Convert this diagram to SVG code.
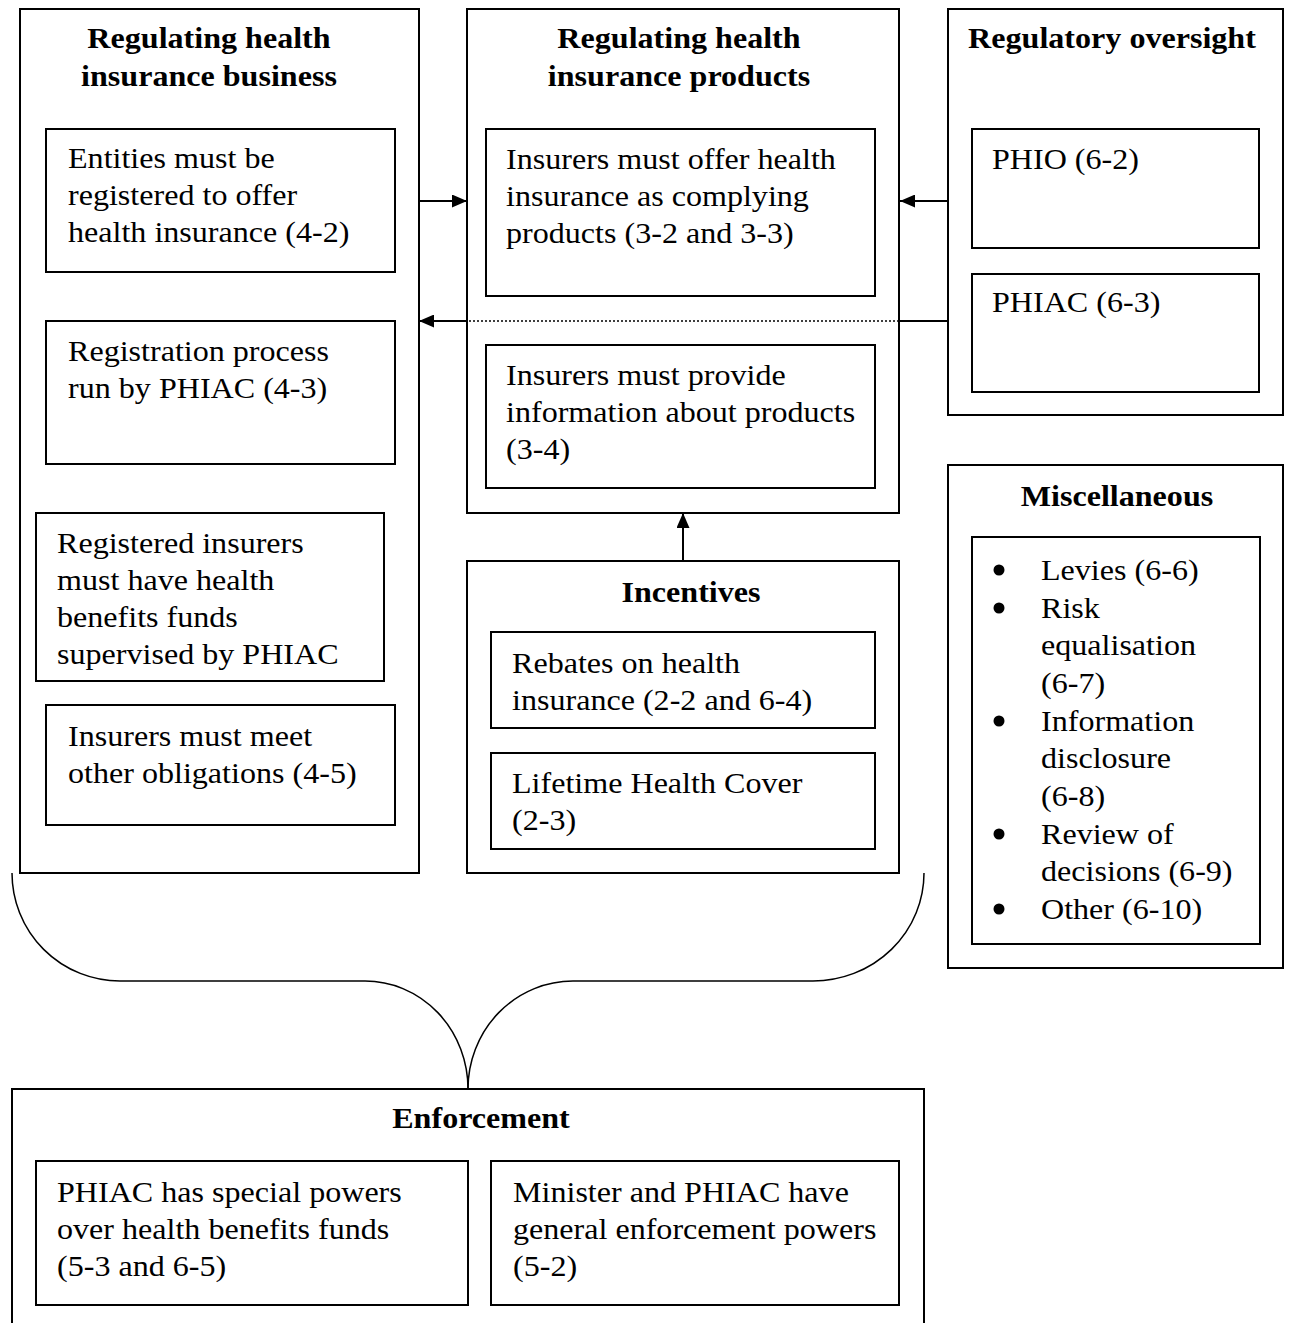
<svg xmlns="http://www.w3.org/2000/svg" width="1290" height="1323" viewBox="0 0 1290 1323">
<defs>
<style>
.box{fill:none;stroke:#000;stroke-width:2}
.t{font-family:"Liberation Serif","Times New Roman",serif;font-size:30px;fill:#000}
.h{font-family:"Liberation Serif","Times New Roman",serif;font-size:30px;font-weight:bold;fill:#000;text-anchor:middle}
.ln{stroke:#000;stroke-width:2;fill:none}
</style>
<marker id="ah" viewBox="0 0 15 13" refX="15" refY="6.5" markerWidth="15" markerHeight="13" orient="auto" markerUnits="userSpaceOnUse"><path d="M0,0 L15,6.5 L0,13 z" fill="#000"/></marker>
</defs>
<rect width="1290" height="1323" fill="#fff"/>

<g id="business">
<rect class="box" x="20" y="9" width="399" height="864"/>
<g transform="translate(209 1.5) scale(1.07 1)">
<text class="h" x="0" y="47">Regulating health</text>
<text class="h" x="0" y="85">insurance business</text>
</g>
</g>
<g id="entities">
<rect class="box" x="46" y="129" width="349" height="143"/>
<g transform="translate(68 1.5) scale(1.07 1)">
<text class="t" x="0" y="167">Entities must be</text>
<text class="t" x="0" y="204">registered to offer</text>
<text class="t" x="0" y="241">health insurance (4-2)</text>
</g>
</g>
<g id="registration">
<rect class="box" x="46" y="321" width="349" height="143"/>
<g transform="translate(68 1.5) scale(1.07 1)">
<text class="t" x="0" y="360">Registration process</text>
<text class="t" x="0" y="397">run by PHIAC (4-3)</text>
</g>
</g>
<g id="registered">
<rect class="box" x="36" y="513" width="348" height="168"/>
<g transform="translate(57 1.5) scale(1.07 1)">
<text class="t" x="0" y="552">Registered insurers</text>
<text class="t" x="0" y="589">must have health</text>
<text class="t" x="0" y="626">benefits funds</text>
<text class="t" x="0" y="663">supervised by PHIAC</text>
</g>
</g>
<g id="obligations">
<rect class="box" x="46" y="705" width="349" height="120"/>
<g transform="translate(68 1.5) scale(1.07 1)">
<text class="t" x="0" y="745">Insurers must meet</text>
<text class="t" x="0" y="782">other obligations (4-5)</text>
</g>
</g>

<g id="products">
<rect class="box" x="467" y="9" width="432" height="504"/>
<g transform="translate(679 1.5) scale(1.07 1)">
<text class="h" x="0" y="47">Regulating health</text>
<text class="h" x="0" y="85">insurance products</text>
</g>
</g>
<g id="complying">
<rect class="box" x="486" y="129" width="389" height="167"/>
<g transform="translate(506 1.5) scale(1.07 1)">
<text class="t" x="0" y="168">Insurers must offer health</text>
<text class="t" x="0" y="205">insurance as complying</text>
<text class="t" x="0" y="242">products (3-2 and 3-3)</text>
</g>
</g>
<g id="information">
<rect class="box" x="486" y="345" width="389" height="143"/>
<g transform="translate(506 1.5) scale(1.07 1)">
<text class="t" x="0" y="384">Insurers must provide</text>
<text class="t" x="0" y="421">information about products</text>
<text class="t" x="0" y="458">(3-4)</text>
</g>
</g>

<g id="oversight">
<rect class="box" x="948" y="9" width="335" height="406"/>
<g transform="translate(1112 1.5) scale(1.07 1)">
<text class="h" x="0" y="47">Regulatory oversight</text>
</g>
</g>
<g id="phio">
<rect class="box" x="972" y="129" width="287" height="119"/>
<g transform="translate(992 1.5) scale(1.07 1)">
<text class="t" x="0" y="168">PHIO (6-2)</text>
</g>
</g>
<g id="phiac">
<rect class="box" x="972" y="274" width="287" height="118"/>
<g transform="translate(992 1.5) scale(1.07 1)">
<text class="t" x="0" y="311">PHIAC (6-3)</text>
</g>
</g>

<g id="misc">
<rect class="box" x="948" y="465" width="335" height="503"/>
<g transform="translate(1117 1) scale(1.07 1)">
<text class="h" x="0" y="505">Miscellaneous</text>
</g>
<rect class="box" x="972" y="537" width="288" height="407"/>
<g fill="#000">
<circle cx="999" cy="570" r="5.5"/>
<circle cx="999" cy="608" r="5.5"/>
<circle cx="999" cy="721" r="5.5"/>
<circle cx="999" cy="834" r="5.5"/>
<circle cx="999" cy="909" r="5.5"/>
</g>
<g transform="translate(1041 1) scale(1.07 1)">
<text class="t" x="0" y="579">Levies (6-6)</text>
<text class="t" x="0" y="617">Risk</text>
<text class="t" x="0" y="654.5">equalisation</text>
<text class="t" x="0" y="692">(6-7)</text>
<text class="t" x="0" y="730">Information</text>
<text class="t" x="0" y="767.5">disclosure</text>
<text class="t" x="0" y="805">(6-8)</text>
<text class="t" x="0" y="843">Review of</text>
<text class="t" x="0" y="880.5">decisions (6-9)</text>
<text class="t" x="0" y="918">Other (6-10)</text>
</g>
</g>

<g id="incentives">
<rect class="box" x="467" y="561" width="432" height="312"/>
<g transform="translate(691 1.5) scale(1.07 1)">
<text class="h" x="0" y="601">Incentives</text>
</g>
</g>
<g id="rebates">
<rect class="box" x="491" y="632" width="384" height="96"/>
<g transform="translate(512 1.5) scale(1.07 1)">
<text class="t" x="0" y="672">Rebates on health</text>
<text class="t" x="0" y="709">insurance (2-2 and 6-4)</text>
</g>
</g>
<g id="lifetime">
<rect class="box" x="491" y="753" width="384" height="96"/>
<g transform="translate(512 1.5) scale(1.07 1)">
<text class="t" x="0" y="792">Lifetime Health Cover</text>
<text class="t" x="0" y="829">(2-3)</text>
</g>
</g>

<g id="enforcement">
<path class="ln" d="M12,1330 V1089 H924 V1330"/>
<g transform="translate(481 1.5) scale(1.07 1)">
<text class="h" x="0" y="1127">Enforcement</text>
</g>
</g>
<g id="special">
<rect class="box" x="36" y="1161" width="432" height="144"/>
<g transform="translate(57 1.5) scale(1.07 1)">
<text class="t" x="0" y="1201">PHIAC has special powers</text>
<text class="t" x="0" y="1238">over health benefits funds</text>
<text class="t" x="0" y="1275">(5-3 and 6-5)</text>
</g>
</g>
<g id="general">
<rect class="box" x="491" y="1161" width="408" height="144"/>
<g transform="translate(513 1.5) scale(1.07 1)">
<text class="t" x="0" y="1201">Minister and PHIAC have</text>
<text class="t" x="0" y="1238">general enforcement powers</text>
<text class="t" x="0" y="1275">(5-2)</text>
</g>
</g>

<g id="connectors">
<line class="ln" x1="419" y1="201" x2="467" y2="201" marker-end="url(#ah)"/>
<line class="ln" x1="948" y1="201" x2="900" y2="201" marker-end="url(#ah)"/>
<line class="ln" x1="948" y1="321" x2="900" y2="321"/>
<line x1="899" y1="321" x2="467" y2="321" stroke="#000" stroke-width="1.5" stroke-dasharray="2,2"/>
<line class="ln" x1="467" y1="321" x2="419" y2="321" marker-end="url(#ah)"/>
<line class="ln" x1="683" y1="561" x2="683" y2="513" marker-end="url(#ah)"/>
<path d="M12,873 A108,108 0 0 0 120,981 L365,981 A103,108 0 0 1 468,1089" fill="none" stroke="#000" stroke-width="1.5"/>
<path d="M924,873 A111,108 0 0 1 813,981 L573,981 A105,108 0 0 0 468,1089" fill="none" stroke="#000" stroke-width="1.5"/>
</g>
</svg>
